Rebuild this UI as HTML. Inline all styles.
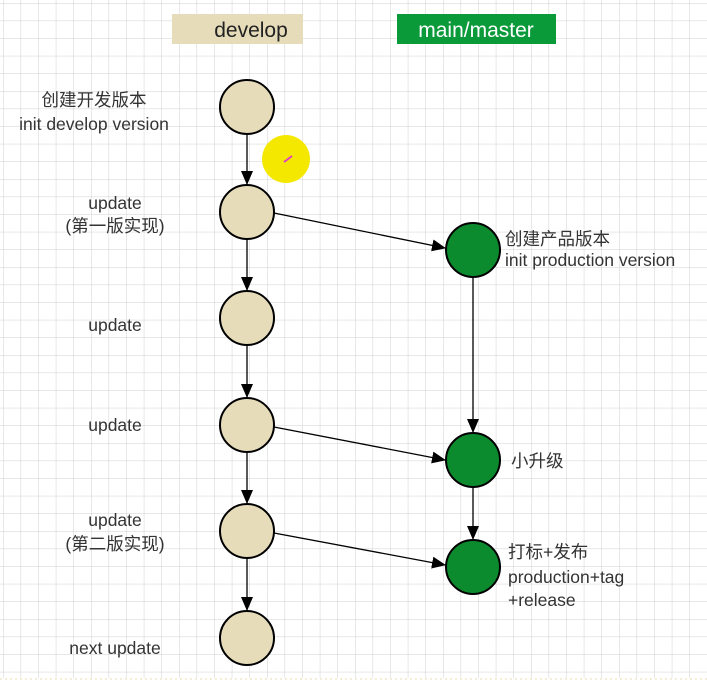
<!DOCTYPE html>
<html><head><meta charset="utf-8"><style>
body{margin:0;width:707px;height:682px;overflow:hidden;background:#fff;}
svg{display:block}
text{font-family:"Liberation Sans","Noto Sans CJK SC",sans-serif;fill:#333;font-size:17.5px}
</style></head><body>
<svg width="707" height="682" viewBox="0 0 707 682">
<defs>
<pattern id="g" x="3" y="3" width="17.6" height="17.6" patternUnits="userSpaceOnUse">
<path d="M0 0H17.6M0 0V17.6" stroke="#cfcfcf" stroke-width="1" fill="none"/>
</pattern>
<marker id="a" markerWidth="14" markerHeight="14" refX="13" refY="7" orient="auto" markerUnits="userSpaceOnUse">
<path d="M0 1L14 7L0 13z" fill="#000"/></marker>
</defs>
<rect width="707" height="678" fill="url(#g)"/>
<line x1="0" y1="679" x2="707" y2="679" stroke="#e8dcb0" stroke-dasharray="2 3"/>
<rect x="172" y="14" width="131" height="30" fill="#e6dcba"/>
<text x="251" y="37" text-anchor="middle" style="font-size:21px;fill:#222">develop</text>
<rect x="397" y="14" width="159" height="30" fill="#0b9a3a"/>
<text x="476" y="37" text-anchor="middle" style="font-size:21px;fill:#fff">main/master</text>
<g stroke="#000" stroke-width="1.3" marker-end="url(#a)">
<line x1="247" y1="134" x2="247" y2="184"/>
<line x1="247" y1="239" x2="247" y2="290"/>
<line x1="247" y1="345" x2="247" y2="397"/>
<line x1="247" y1="452" x2="247" y2="503"/>
<line x1="247" y1="558" x2="247" y2="610"/>
<line x1="473" y1="277" x2="473" y2="432"/>
<line x1="473" y1="487" x2="473" y2="539"/>
<line x1="274" y1="213" x2="445" y2="248"/>
<line x1="274" y1="427" x2="445" y2="460"/>
<line x1="274" y1="533" x2="445" y2="565"/>
</g>
<g fill="#e6dcba" stroke="#000" stroke-width="2">
<circle cx="247" cy="107" r="27"/><circle cx="247" cy="212" r="27"/>
<circle cx="247" cy="318" r="27"/><circle cx="247" cy="425" r="27"/>
<circle cx="247" cy="531" r="27"/><circle cx="247" cy="638" r="27"/>
</g>
<g fill="#0b8a2e" stroke="#000" stroke-width="2">
<circle cx="473" cy="250" r="27"/><circle cx="473" cy="460" r="27"/><circle cx="473" cy="567" r="27"/>
</g>
<circle cx="286" cy="159" r="24" fill="#f5e800"/>
<path d="M284 162l8-6" stroke="#e040c0" stroke-width="2"/>
<g text-anchor="middle">
<text x="94" y="106">创建开发版本</text>
<text x="94" y="130">init develop version</text>
<text x="115" y="209">update</text>
<text x="115" y="232">(第一版实现)</text>
<text x="115" y="331">update</text>
<text x="115" y="431">update</text>
<text x="115" y="526">update</text>
<text x="115" y="550">(第二版实现)</text>
<text x="115" y="654">next update</text>
</g>
<text x="505" y="245">创建产品版本</text>
<text x="505" y="266">init  production version</text>
<text x="511" y="467">小升级</text>
<text x="508" y="558">打标+发布</text>
<text x="508" y="583">production+tag</text>
<text x="508" y="606">+release</text>
</svg>
</body></html>
